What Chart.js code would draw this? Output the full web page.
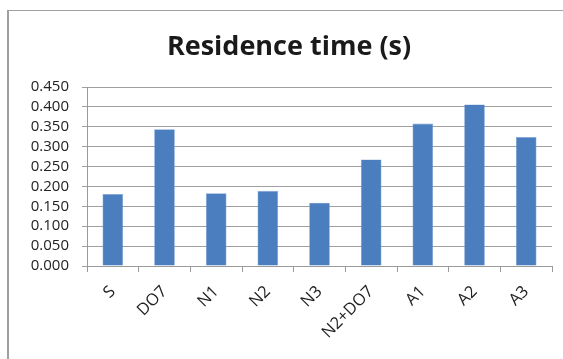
<!DOCTYPE html>
<html>
<head>
<meta charset="utf-8">
<script src="https://cdn.jsdelivr.net/npm/chart.js@4/dist/chart.umd.min.js"></script>
<style>
  html, body { margin: 0; padding: 0; background: #ffffff; }
  #wrap { position: relative; width: 563px; height: 359px; }
</style>
</head>
<body>
<div id="wrap"><canvas id="c" width="563" height="359"></canvas></div>
<script>
// Residence time per configuration, in seconds
const categories = ['S', 'DO7', 'N1', 'N2', 'N3', 'N2+DO7', 'A1', 'A2', 'A3'];
const residenceTime = [0.181, 0.344, 0.183, 0.189, 0.159, 0.268, 0.358, 0.406, 0.324];
const yTicks = [0, 0.05, 0.1, 0.15, 0.2, 0.25, 0.3, 0.35, 0.4, 0.45];

// Frame lines along the top and left edges of the chart box
const framePlugin = {
  id: 'frame',
  beforeDraw(chart) {
    const ctx = chart.ctx;
    ctx.save();
    ctx.fillStyle = '#ffffff';
    ctx.fillRect(0, 0, chart.width, chart.height);
    ctx.fillStyle = '#a0a0a0';
    ctx.fillRect(7, 10, 2, chart.height - 10);
    ctx.fillRect(7, 10, chart.width - 7, 1);
    ctx.restore();
  }
};

new Chart(document.getElementById('c'), {
  type: 'bar',
  data: {
    labels: categories,
    datasets: [{
      data: residenceTime,
      backgroundColor: '#4a7ebf',
      borderColor: '#7ea4d6',
      borderWidth: 0.6,
      barPercentage: 0.4,
      categoryPercentage: 1.0
    }]
  },
  options: {
    responsive: false,
    animation: false,
    events: [],
    layout: { padding: { left: 26, right: 11, top: 0, bottom: 0 } },
    plugins: {
      legend: { display: false },
      tooltip: { enabled: false },
      title: {
        display: true,
        text: 'Residence time (s)',
        color: '#1a1a1a',
        font: { family: 'Open Sans', size: 27, weight: 'bold', lineHeight: 1.2 },
        padding: { top: 31, bottom: 23.6 }
      }
    },
    scales: {
      x: {
        grid: { display: true, drawOnChartArea: false, drawTicks: true, tickLength: 6, color: '#9a9a9a', offset: true },
        border: { display: true, color: '#9a9a9a', width: 1 },
        ticks: {
          color: '#222222',
          font: { family: 'Open Sans', size: 16.5 },
          minRotation: 45,
          maxRotation: 45,
          padding: 10,
          autoSkip: false
        },
        afterFit(scale) { scale.height = 93; }
      },
      y: {
        min: 0,
        max: 0.45,
        afterBuildTicks(scale) { scale.ticks = yTicks.map(v => ({ value: v })); },
        grid: { color: '#a0a0a0', lineWidth: 1, tickLength: 5, drawTicks: true },
        border: { display: true, color: '#9a9a9a', width: 1 },
        ticks: {
          color: '#222222',
          font: { family: 'Open Sans', size: 15 },
          padding: 13,
          autoSkip: false,
          callback: v => Number(v).toFixed(3)
        },
        afterFit(scale) { scale.width = 61; }
      }
    }
  },
  plugins: [framePlugin]
});
</script>
</body>
</html>
